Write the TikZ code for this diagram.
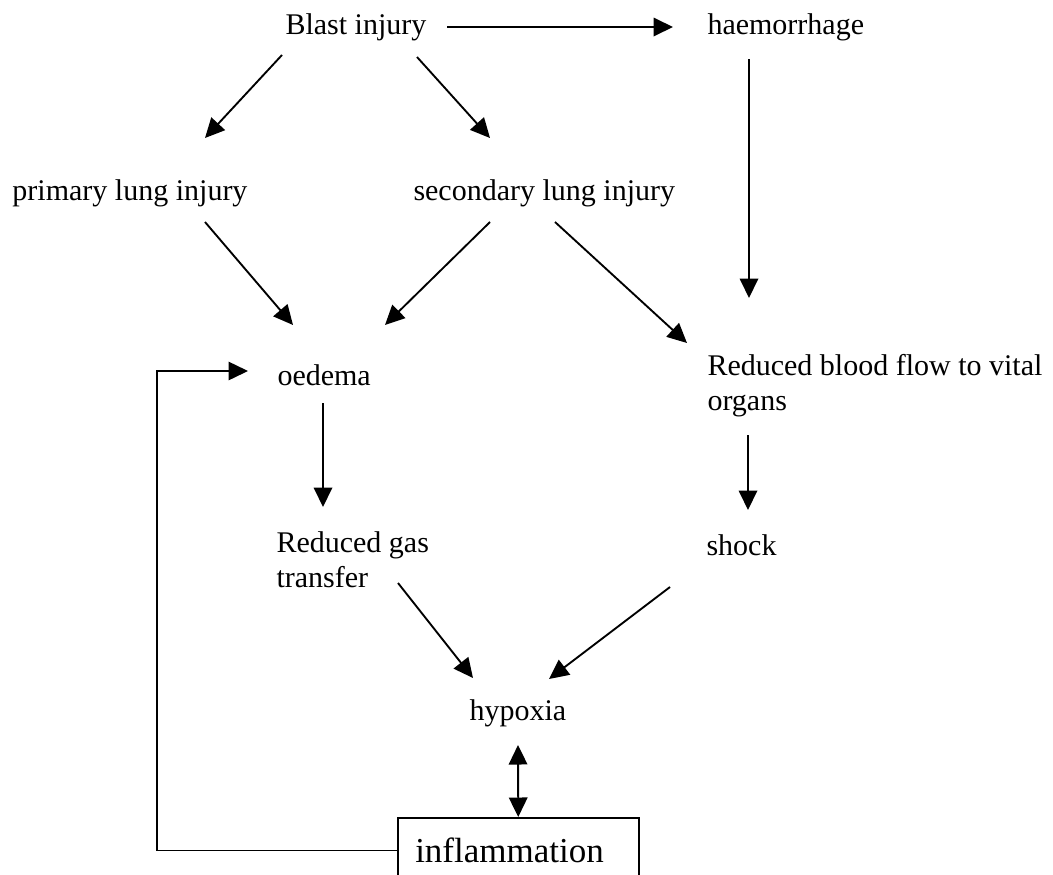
\documentclass[tikz,border=0pt]{standalone}
\usepackage{fontspec}
\setmainfont{Liberation Serif}
\usetikzlibrary{arrows.meta}
\tikzset{
	lbl/.style={anchor=base west, inner sep=0pt, font=\fontsize{12}{14}\selectfont},
	blk/.style={anchor=north west, inner sep=0pt, align=left, font=\fontsize{12}{14}\selectfont},
	arr/.style={line width=0.75pt, -{Triangle[length=7.8pt,width=7.4pt]}},
	dbl/.style={line width=0.75pt, {Triangle[length=7.8pt,width=7.4pt]}-{Triangle[length=7.8pt,width=7.4pt]}},
}
\begin{document}
\begin{tikzpicture}[x=0.4pt, y=-0.4pt]
	\useasboundingbox (0,0) rectangle (1053,874);
	\clip (0,0) rectangle (1053,874);

	\node[lbl] (blast) at (285,34) {Blast injury};
	\node[lbl] (haem) at (707,34) {haemorrhage};

	\node[lbl] (primary) at (12,200) {primary lung injury};
	\node[lbl] (secondary) at (413,200) {secondary lung injury};

	\node[lbl] (oedema) at (277,385) {oedema};
	\node[blk] (blood) at (707,354) {Reduced blood flow to vital\\organs};

	\node[blk] (gas) at (276,531) {Reduced gas\\transfer};
	\node[lbl] (shock) at (706,555) {shock};

	\node[lbl] (hypoxia) at (469,720) {hypoxia};
	\node[draw, line width=0.6pt, anchor=north west, inner ysep=8pt, inner xsep=7pt,
		text width=82.4pt, align=left, font=\fontsize{14}{16}\selectfont] (inflam) at (397,817) {inflammation};

	\draw[arr] ([shift={(162,-7)}]blast.base west) -- ([shift={(-34,-7)}]haem.base west);
	\draw[arr] ([shift={(-3,21)}]blast.base west) -- ([shift={(193,-62)}]primary.base west);
	\draw[arr] ([shift={(132,23)}]blast.base west) -- ([shift={(77,-62)}]secondary.base west);
	\draw[arr] ([shift={(42,25)}]haem.base west) -- ([shift={(42,-56)}]blood.north west);

	\draw[arr] ([shift={(193,22)}]primary.base west) -- ([shift={(16,-60)}]oedema.base west);
	\draw[arr] ([shift={(77,22)}]secondary.base west) -- ([shift={(108,-60)}]oedema.base west);
	\draw[arr] ([shift={(142,22)}]secondary.base west) -- ([shift={(-20,-11)}]blood.north west);

	\draw[arr] ([shift={(46,18)}]oedema.base west) -- ([shift={(47,-24)}]gas.north west);
	\draw[arr] ([shift={(41,81)}]blood.north west) -- ([shift={(42,-45)}]shock.base west);

	\draw[arr] ([shift={(122,52)}]gas.north west) -- ([shift={(4,-42)}]hypoxia.base west);
	\draw[arr] ([shift={(-36,32)}]shock.base west) -- ([shift={(80,-41)}]hypoxia.base west);

	\draw[dbl] ([shift={(49,25)}]hypoxia.base west) -- (inflam.north);

	\coordinate (loop) at (157,371);
	\draw[arr, line width=0.6pt] (inflam.west) -| (loop) -- ([shift={(-29,-14)}]oedema.base west);
\end{tikzpicture}
\end{document}
